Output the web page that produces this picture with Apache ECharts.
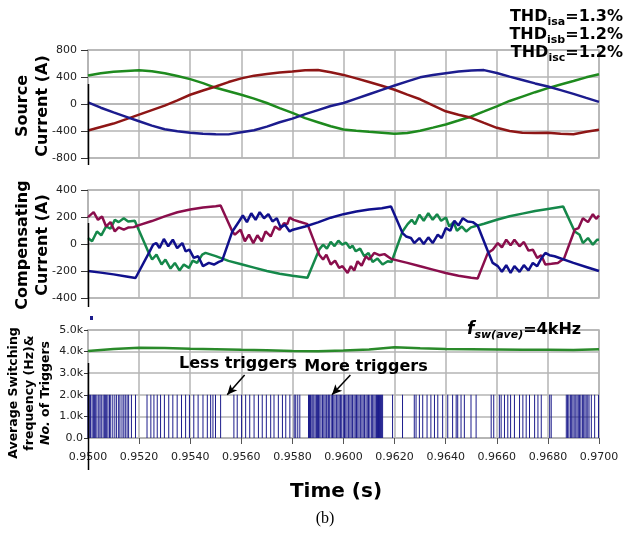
<!DOCTYPE html>
<html><head><meta charset="utf-8">
<script src="https://cdn.jsdelivr.net/npm/echarts@6/dist/echarts.min.js"></script>
<style>html,body{margin:0;padding:0;background:#fff}#c{width:626px;height:534px}</style>
</head><body><div id="c"></div>
<script>
// ---------- data ----------
const srcTime = [0.9500,0.9505,0.9510,0.9515,0.9520,0.9525,0.9530,0.9535,0.9540,0.9545,0.9550,0.9555,0.9560,0.9565,0.9570,0.9575,0.9580,0.9585,0.9590,0.9595,0.9600,0.9605,0.9610,0.9615,0.9620,0.9625,0.9630,0.9635,0.9640,0.9645,0.9650,0.9655,0.9660,0.9665,0.9670,0.9675,0.9680,0.9685,0.9690,0.9695,0.9700];
const srcBlue  = [25,-55,-125,-190,-255,-320,-375,-405,-425,-440,-448,-450,-420,-390,-335,-270,-216,-150,-90,-30,15,80,145,210,274,335,395,430,456,480,495,502,460,405,355,305,260,205,150,90,32];
const srcRed   = [-392,-340,-290,-225,-157,-90,-25,55,137,200,260,325,380,420,445,465,480,500,505,470,431,380,325,270,211,140,70,-20,-108,-160,-205,-280,-353,-400,-425,-428,-426,-440,-448,-410,-380];
const srcGreen = [421,455,478,490,500,485,456,415,368,310,240,190,137,80,15,-60,-132,-210,-270,-330,-377,-395,-412,-425,-441,-430,-395,-350,-304,-245,-185,-110,-34,45,110,175,235,290,340,395,441];

const compBlue = [[.95000,-200],[.95050,-212],[.95100,-225],[.95150,-240],[.95186,-252],[.95240,-60],[.95255,-5],[.95267,7],[.95280,-30],[.95297,37],[.95314,-17],[.95332,32],[.95349,-30],[.95369,7],[.95382,-54],[.95397,-42],[.95414,-103],[.95431,-91],[.95450,-164],[.95473,-140],[.95493,-152],[.95512,-133],[.95525,-123],[.95565,93],[.95578,130],[.95591,167],[.95606,211],[.95622,162],[.95639,228],[.95656,179],[.95672,236],[.95689,191],[.95706,221],[.95722,167],[.95739,191],[.95754,123],[.95771,142],[.95789,93],[.95802,106],[.95850,130],[.95900,160],[.95950,195],[.96000,221],[.96050,240],[.96100,255],[.96150,265],[.96186,277],[.96231,81],[.96245,56],[.96264,44],[.96277,7],[.96297,44],[.96314,0],[.96332,49],[.96349,7],[.96369,69],[.96384,44],[.96401,118],[.96418,98],[.96434,172],[.96450,137],[.96467,191],[.96486,167],[.96506,162],[.96525,137],[.96565,-54],[.96584,-140],[.96604,-164],[.96620,-206],[.96637,-157],[.96654,-214],[.96669,-164],[.96689,-206],[.96706,-157],[.96724,-196],[.96741,-140],[.96758,-164],[.96774,-108],[.96790,-66],[.96806,-83],[.96826,-91],[.96900,-140],[.96950,-170],[.97000,-200]];
const compCrimson = [[.95000,199],[.95022,236],[.95039,179],[.95055,204],[.95071,130],[.95088,162],[.95105,93],[.95120,123],[.95140,106],[.95159,123],[.95179,125],[.95200,140],[.95250,170],[.95300,205],[.95350,235],[.95400,255],[.95450,270],[.95500,280],[.95519,285],[.95565,93],[.95575,69],[.95597,106],[.95614,20],[.95630,69],[.95647,7],[.95663,64],[.95680,20],[.95695,93],[.95715,56],[.95732,130],[.95750,106],[.95767,155],[.95780,147],[.95789,196],[.95805,179],[.95825,167],[.95859,147],[.95905,-79],[.95920,-115],[.95933,-79],[.95950,-152],[.95967,-123],[.95983,-177],[.95996,-164],[.96016,-214],[.96029,-164],[.96042,-196],[.96055,-128],[.96071,-160],[.96088,-91],[.96101,-115],[.96120,-66],[.96140,-83],[.96160,-75],[.96186,-110],[.96250,-140],[.96300,-165],[.96350,-190],[.96400,-215],[.96450,-235],[.96500,-250],[.96525,-255],[.96565,-66],[.96584,-42],[.96604,7],[.96620,-25],[.96637,32],[.96654,-10],[.96669,32],[.96689,-17],[.96706,15],[.96724,-49],[.96741,-42],[.96758,-103],[.96774,-83],[.96790,-152],[.96814,-147],[.96839,-140],[.96863,-108],[.96905,106],[.96920,118],[.96937,191],[.96957,162],[.96976,221],[.96989,186],[.97000,211]];
const compGreen = [[.95000,44],[.95016,20],[.95035,93],[.95052,64],[.95071,130],[.95088,113],[.95105,179],[.95120,162],[.95140,191],[.95157,167],[.95183,172],[.95238,-66],[.95251,-115],[.95268,-79],[.95288,-152],[.95303,-115],[.95323,-182],[.95340,-140],[.95358,-196],[.95375,-152],[.95395,-177],[.95410,-123],[.95427,-140],[.95447,-79],[.95460,-66],[.95500,-90],[.95550,-125],[.95600,-150],[.95650,-175],[.95700,-200],[.95750,-220],[.95800,-235],[.95859,-250],[.95905,-40],[.95920,-5],[.95935,-35],[.95950,15],[.95965,-15],[.95980,25],[.95995,-5],[.96010,10],[.96025,-30],[.96035,-12],[.96048,-54],[.96065,-34],[.96081,-91],[.96098,-66],[.96114,-133],[.96133,-108],[.96153,-152],[.96173,-128],[.96188,-133],[.96231,93],[.96251,147],[.96267,179],[.96280,147],[.96297,216],[.96314,172],[.96332,228],[.96349,179],[.96366,221],[.96382,172],[.96401,196],[.96414,130],[.96431,162],[.96444,98],[.96463,130],[.96480,93],[.96499,123],[.96550,150],[.96600,180],[.96650,205],[.96700,225],[.96750,245],[.96800,260],[.96860,277],[.96905,93],[.96924,69],[.96937,7],[.96957,44],[.96976,-5],[.96993,32],[.97000,32]];

const fswTime  = [0.950,0.951,0.952,0.953,0.954,0.955,0.956,0.957,0.958,0.959,0.960,0.961,0.962,0.963,0.964,0.965,0.966,0.967,0.968,0.969,0.970];
const fswValue = [4030,4120,4180,4170,4130,4110,4080,4060,4030,4020,4050,4100,4200,4150,4120,4110,4100,4090,4080,4070,4110];

const triggerLevel = 2000;
const triggerTimes = [
.95000,.95005,.95010,.95016,.95021,.95025,.95030,.95035,.95042,.95047,.95052,.95059,.95064,.95068,.95073,.95078,.95084,.95089,.95097,.95105,.95112,.95120,.95125,.95133,.95140,.95146,.95153,.95159,.95170,.95186,
.95231,.95246,.95258,.95271,.95284,.95299,.95316,.95332,.95349,.95366,.95382,.95397,.95414,.95431,.95450,.95467,.95480,.95489,.95499,.95519,
.95571,.95584,.95601,.95617,.95633,.95650,.95667,.95682,.95698,.95715,.95728,.95745,.95761,.95774,.95790,.95807,.95813,.95821,.95829,
.95863,.95867,.95871,.95876,.95880,.95884,.95889,.95894,.95898,.95902,.95907,.95912,.95918,.95923,.95928,.95933,.95939,.95942,.95946,.95952,.95957,.95962,.95967,.95973,.95978,.95983,.95988,.95993,.95999,.96004,.96009,.96014,.96020,.96025,.96030,.96035,.96041,.96046,.96051,.96056,.96061,.96067,.96072,.96077,.96082,.96088,.96093,.96098,.96103,.96109,.96114,.96119,.96124,.96129,.96133,.96137,.96141,.96145,.96149,.96153,
.96192,.96231,.96277,.96284,.96297,.96310,.96327,.96342,.96356,.96369,.96388,.96408,.96427,.96441,.96447,.96460,.96473,.96499,.96519,
.96578,.96588,.96610,.96617,.96630,.96643,.96654,.96669,.96689,.96702,.96715,.96728,.96748,.96761,.96774,.96807,.96813,
.96872,.96877,.96882,.96888,.96893,.96898,.96903,.96909,.96914,.96919,.96924,.96929,.96935,.96940,.96945,.96950,.96956,.96961,.96970,.96983,.96998];

const lessArrow = [[0.95613, 2920], [0.95545, 2000]];
const moreArrow = [[0.96027, 2920], [0.95955, 2000]];

const thdLines = [['isa','=1.3%'],['isb','=1.2%'],['isc','=1.2%']];

// ---------- chart ----------
const chart = echarts.init(document.getElementById('c'), null, {renderer:'canvas'});
const GRID = '#b4b4b4';
const FONT = 'DejaVu Sans';
const zip = (t, v) => t.map((x, i) => [x, v[i]]);

const grids = [
  {left: 88, top: 50, width: 511, height: 108, show: true, borderColor: GRID, borderWidth: 1.5, backgroundColor: 'transparent'},
  {left: 88, top: 190, width: 511, height: 108, show: true, borderColor: GRID, borderWidth: 1.5, backgroundColor: 'transparent'},
  {left: 88, top: 330, width: 511, height: 108, show: true, borderColor: GRID, borderWidth: 1.5, backgroundColor: 'transparent'}
];
function xAx(i, labels) {
  return {
    type: 'value', gridIndex: i, min: 0.95, max: 0.97, interval: 0.002,
    axisLine: {show: true, lineStyle: {color: GRID, width: 1.5}},
    axisTick: {show: labels, length: 6, lineStyle: {color: '#555', width: 1}},
    axisLabel: {show: labels, margin: 14, fontFamily: FONT, fontSize: 11, color: '#222',
      formatter: v => v.toFixed(4)},
    splitLine: {show: true, lineStyle: {color: GRID, width: 1.5, type: 'solid'}}
  };
}
function yAx(i, min, max, iv, fmt, tickLen, margin) {
  return {
    type: 'value', gridIndex: i, min, max, interval: iv,
    axisLine: {show: true, lineStyle: {color: GRID, width: 1.5}},
    axisTick: {show: true, length: tickLen, lineStyle: {color: '#333', width: 1}},
    axisLabel: {margin, fontFamily: FONT, fontSize: 11, color: '#222', formatter: fmt},
    splitLine: {show: true, lineStyle: {color: GRID, width: 1.5, type: 'solid'}}
  };
}
const line = (xi, data, color, w) => ({
  type: 'line', xAxisIndex: xi, yAxisIndex: xi, data, showSymbol: false, symbol: 'none',
  lineStyle: {color, width: w || 2.5}, itemStyle: {color}, z: 3
});

// text layout helper (segments with sub-scripts)
const mctx = document.createElement('canvas').getContext('2d');
function segText(x, y, parts, align) {
  const w = parts.map(p => { mctx.font = p.font; return mctx.measureText(p.text).width; });
  const total = w.reduce((a, b) => a + b, 0);
  let cx = align === 'right' ? x - total : align === 'center' ? x - total / 2 : x;
  return parts.map((p, i) => {
    const el = {type: 'text', x: cx, y: y + (p.dy || 0), z: 100,
      style: {text: p.text, font: p.font, fill: '#000', textAlign: 'left', textVerticalAlign: 'middle', align: 'left', verticalAlign: 'middle'}};
    cx += w[i];
    return el;
  });
}
const BIG = 'bold 16px "DejaVu Sans"';
const SUB = 'bold 11px "DejaVu Sans"';
let graphics = [];
thdLines.forEach((l, i) => {
  graphics = graphics.concat(segText(623, 16.5 + i * 18, [
    {text: 'THD', font: BIG}, {text: l[0], font: SUB, dy: 5.5}, {text: l[1], font: BIG}
  ], 'right'));
});
graphics = graphics.concat(segText(467, 330, [
  {text: 'f', font: 'italic bold 17px "DejaVu Sans"'},
  {text: 'sw(ave)', font: 'italic bold 11px "DejaVu Sans"', dy: 5.5},
  {text: '=4kHz', font: 'bold 16px "DejaVu Sans"'}
], 'left'));
graphics.push(
  {type: 'text', x: 238, y: 364, z: 100, style: {text: 'Less triggers', font: 'bold 16px "DejaVu Sans"', fill: '#000', textAlign: 'center', textVerticalAlign: 'middle', align: 'center', verticalAlign: 'middle'}},
  {type: 'text', x: 366, y: 367, z: 100, style: {text: 'More triggers', font: 'bold 16px "DejaVu Sans"', fill: '#000', textAlign: 'center', textVerticalAlign: 'middle', align: 'center', verticalAlign: 'middle'}},
  {type: 'text', x: 33, y: 106, rotation: Math.PI / 2, z: 100, style: {text: 'Source\nCurrent (A)', font: 'bold 16px "DejaVu Sans"', lineHeight: 20, fill: '#000', textAlign: 'center', textVerticalAlign: 'middle', align: 'center', verticalAlign: 'middle'}},
  {type: 'text', x: 33, y: 245, rotation: Math.PI / 2, z: 100, style: {text: 'Compensating\nCurrent (A)', font: 'bold 16px "DejaVu Sans"', lineHeight: 20, fill: '#000', textAlign: 'center', textVerticalAlign: 'middle', align: 'center', verticalAlign: 'middle'}},
  {type: 'text', x: 30, y: 393, rotation: Math.PI / 2, z: 100, style: {text: 'Average Switching\nfrequency (Hz)&\n{i|No.} of Triggers', font: 'bold 12.5px "DejaVu Sans"', lineHeight: 16, fill: '#000', textAlign: 'center', textVerticalAlign: 'middle', align: 'center', verticalAlign: 'middle',
    rich: {i: {fontStyle: 'italic', fontWeight: 'bold', fontSize: 12.5, fontFamily: FONT, lineHeight: 16}}}},
  {type: 'text', x: 336, y: 492, z: 100, style: {text: 'Time (s)', font: 'bold 20px "DejaVu Sans"', fill: '#000', textAlign: 'center', textVerticalAlign: 'middle', align: 'center', verticalAlign: 'middle'}},
  {type: 'text', x: 325, y: 519, z: 100, style: {text: '(b)', font: '16px "Liberation Serif"', fill: '#000', textAlign: 'center', textVerticalAlign: 'middle', align: 'center', verticalAlign: 'middle'}},
  {type: 'line', z: 100, shape: {x1: 88.5, y1: 84, x2: 88.5, y2: 165}, style: {stroke: '#000', lineWidth: 1.5}},
  {type: 'line', z: 100, shape: {x1: 88.5, y1: 223, x2: 88.5, y2: 307}, style: {stroke: '#000', lineWidth: 1.5}},
  {type: 'line', z: 100, shape: {x1: 88.5, y1: 363, x2: 88.5, y2: 470}, style: {stroke: '#000', lineWidth: 1.5}},
  {type: 'rect', z: 100, shape: {x: 90, y: 316, width: 3, height: 4}, style: {fill: '#1c1c8c'}}
);

const arrowLine = (a) => [{coord: a[0], symbol: 'none'}, {coord: a[1], symbol: 'arrow'}];

chart.setOption({
  animation: false,
  backgroundColor: '#fff',
  grid: grids,
  xAxis: [xAx(0, false), xAx(1, false), xAx(2, true)],
  yAxis: [
    yAx(0, -800, 800, 400, v => String(v), 7, 11),
    yAx(1, -400, 400, 200, v => String(v), 7, 11),
    yAx(2, 0, 5000, 1000, v => (v / 1000).toFixed(1) + (v === 0 ? '' : 'k'), 4, 5)
  ],
  series: [
    line(0, zip(srcTime, srcGreen), '#1e8a1e'),
    line(0, zip(srcTime, srcRed), '#8e1616'),
    line(0, zip(srcTime, srcBlue), '#1c1c8e'),
    line(1, compGreen, '#15884a'),
    line(1, compCrimson, '#8a0e4c'),
    line(1, compBlue, '#10108c'),
    {type: 'bar', xAxisIndex: 2, yAxisIndex: 2, barWidth: 1, z: 2,
      data: triggerTimes.map(t => [t, triggerLevel]), itemStyle: {color: '#1c1c8c'}},
    Object.assign(line(2, zip(fswTime, fswValue), '#2a8a2a'), {
      markLine: {silent: true, symbolSize: [7, 10], label: {show: false},
        lineStyle: {color: '#000', width: 1.5, type: 'solid'},
        data: [arrowLine(lessArrow), arrowLine(moreArrow)]}
    })
  ],
  graphic: graphics
});
</script>
</body></html>
